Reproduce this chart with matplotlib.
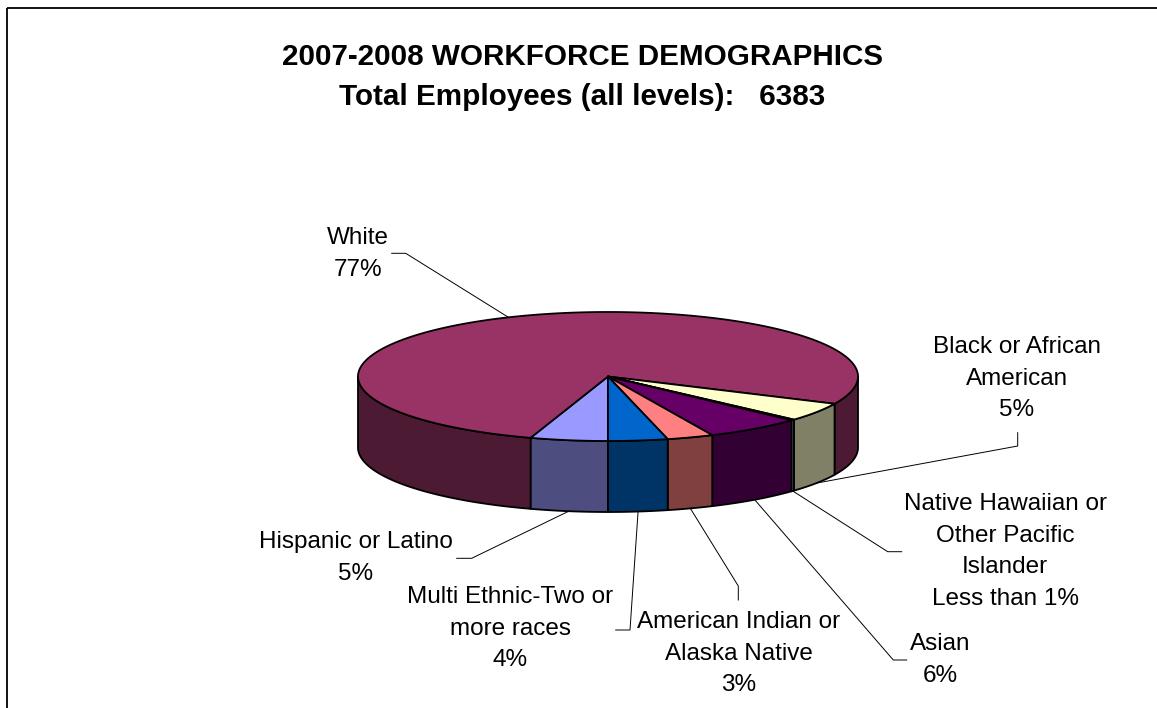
import numpy as np
import matplotlib
matplotlib.use("Agg")
import matplotlib.pyplot as plt
from matplotlib.patches import Polygon, Rectangle

# workforce head counts, in pie order (clockwise from the front)
categories = [
    "Hispanic or Latino",
    "White",
    "Black or African\nAmerican",
    "Native Hawaiian or\nOther Pacific\nIslander",
    "Asian",
    "American Indian or\nAlaska Native",
    "Multi Ethnic-Two or\nmore races",
]
counts = [320, 4911, 300, 15, 400, 192, 245]
top_colors = ["#9999FF", "#993366", "#FFFFCC", "#CCFFFF", "#660066", "#FF8080", "#0066CC"]
side_colors = ["#4D4D80", "#4D1A33", "#808066", "#668080", "#330033", "#804040", "#003366"]

# label text position (centre x, first baseline) and leader elbow / end
label_pos = [(355.5, 548), (358, 244), (1017, 353), (1005, 510), (940, 650), (739, 628), (510.5, 603)]
leader_pts = [
    [(471.7, 558.3), (456.7, 558.3)],
    [(405.7, 253.3), (391.7, 253.3)],
    [(1017.7, 446), (1017.7, 432.7)],
    [(887.7, 551.7), (901.7, 551.7)],
    [(893.3, 660), (906.7, 660)],
    [(738.3, 586), (738.3, 600)],
    [(630, 630), (615.7, 630)],
]

total = sum(counts)

# pie geometry in pixels
cx, cy = 608, 376.5
rx, ry = 250, 64.5
depth = 71

W, H = 1157, 708
fig = plt.figure(figsize=(W / 100, H / 100), dpi=100)
ax = fig.add_axes([0, 0, 1, 1])
ax.set_xlim(0, W)
ax.set_ylim(H, 0)
ax.axis("off")

FONT = "Liberation Sans"


def rim(t, dy=0.0):
    t = np.radians(t)
    return np.column_stack([cx - rx * np.sin(t), cy + ry * np.cos(t) + dy])


# angle ranges of each slice, starting at the front and going clockwise
sweeps = np.array(counts) / total * 360
ends = np.cumsum(sweeps)
starts = ends - sweeps

# outer walls (only the front half is visible)
for a, b, col in zip(starts, ends, side_colors):
    for lo, hi in [(-90, 90), (270, 450)]:
        s, e = max(a, lo), min(b, hi)
        if e <= s:
            continue
        t = np.linspace(s, e, 80)
        pts = np.vstack([rim(t), rim(t[::-1], depth)])
        ax.add_patch(Polygon(pts, closed=True, facecolor=col, edgecolor="black",
                             lw=1.3, joinstyle="round"))

# top faces
for a, b, col in zip(starts, ends, top_colors):
    t = np.linspace(a, b, max(int(b - a) * 2, 4))
    pts = np.vstack([[cx, cy], rim(t)])
    ax.add_patch(Polygon(pts, closed=True, facecolor=col, edgecolor="black",
                         lw=1.3, joinstyle="round"))

# data labels with leader lines
for i, name in enumerate(categories):
    pct = counts[i] / total * 100
    pct_txt = "Less than 1%" if pct < 1 else f"{pct:.0f}%"
    lines = name.split("\n") + [pct_txt]
    x0, y0 = label_pos[i]
    for j, line in enumerate(lines):
        ax.text(x0, y0 + j * 31.7, line, ha="center", va="baseline",
                fontsize=17.5, family=FONT, color="black")

    mid = (starts[i] + ends[i]) / 2
    anchor = rim([mid], depth if np.cos(np.radians(mid)) >= 0 else 0)[0]
    path = np.vstack([anchor, leader_pts[i]])
    ax.plot(path[:, 0], path[:, 1], color="black", lw=0.7)

# title
ax.text(582.5, 65, "2007-2008 WORKFORCE DEMOGRAPHICS", ha="center", va="baseline",
        fontsize=21.3, fontweight="bold", family=FONT)
ax.text(582.5, 105, f"Total Employees (all levels):   {total}", ha="center", va="baseline",
        fontsize=21.3, fontweight="bold", family=FONT)

# chart area border
ax.add_patch(Rectangle((7, 7.5), 1300, 900, fill=False, edgecolor="black", lw=1.3))

fig.savefig("out.png", dpi=100)
